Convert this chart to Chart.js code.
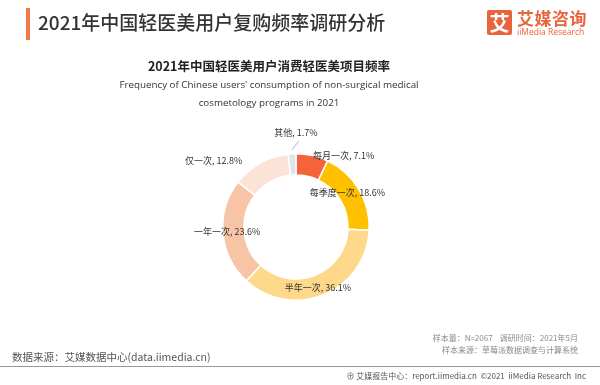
<!DOCTYPE html>
<html>
<head>
<meta charset="utf-8">
<script src="https://cdn.jsdelivr.net/npm/chart.js@4"></script>
<style>
  body { margin: 0; background: #fff; font-family: "Noto Sans CJK SC", "Noto Sans", sans-serif; }
  #wrap { position: relative; width: 600px; height: 385px; overflow: hidden; }
  #chart { position: absolute; left: 0; top: 0; }
  .abs { position: absolute; white-space: nowrap; }
  #bar { left: 26px; top: 8px; width: 4px; height: 32px; background: #f07a4a; }
  #head { left: 38px; top: 8px; font-size: 19px; font-weight: 500; color: #333; line-height: 28px; }
  #logoBox { left: 487px; top: 10px; width: 25px; height: 25px; background: #e8643c; color: #fff; font-size: 20px; font-weight: 700; line-height: 25px; text-align: center; border-radius: 2px; }
  #logoCn { left: 517px; top: 7px; font-size: 17px; font-weight: 700; color: #e8643c; line-height: 22px; letter-spacing: 0.5px; }
  #logoEn { left: 517px; top: 27px; font-size: 8.5px; color: #e8643c; line-height: 10px; font-family: "Open Sans", sans-serif; }
  #ctitle { left: 0; width: 538px; top: 57px; text-align: center; font-size: 12.5px; font-weight: 700; color: #222; line-height: 18px; }
  #csub { left: 0; width: 538px; top: 76px; text-align: center; font-size: 9.8px; color: #333; line-height: 18px; font-family: "Open Sans", sans-serif; white-space: normal; }
  #note1 { right: 22px; top: 332px; font-size: 8px; color: #8a8a8a; line-height: 11.5px; text-align: right; }
  #src { left: 12px; top: 349px; font-size: 10.5px; color: #555; line-height: 15px; }
  #rule { left: 0; top: 366px; width: 600px; height: 1px; background: #999; }
  #foot { right: 14px; top: 369px; font-size: 8px; color: #555; line-height: 13px; }
</style>
</head>
<body>
<div id="wrap">
  <canvas id="chart" width="600" height="385"></canvas>
  <div class="abs" id="bar"></div>
  <div class="abs" id="head">2021年中国轻医美用户复购频率调研分析</div>
  <div class="abs" id="logoBox">艾</div>
  <div class="abs" id="logoCn">艾媒咨询</div>
  <div class="abs" id="logoEn">iiMedia Research</div>
  <div class="abs" id="ctitle">2021年中国轻医美用户消费轻医美项目频率</div>
  <div class="abs" id="csub">Frequency of Chinese users' consumption of non-surgical medical<br>cosmetology programs in 2021</div>
  <div class="abs" id="note1">样本量：N=2067&nbsp;&nbsp;&nbsp;&nbsp;调研时间：2021年5月<br>样本来源：草莓派数据调查与计算系统</div>
  <div class="abs" id="src">数据来源：艾媒数据中心(data.iimedia.cn)</div>
  <div class="abs" id="rule"></div>
  <div class="abs" id="foot">⊕ 艾媒报告中心：report.iimedia.cn&nbsp;&nbsp;©2021&nbsp;&nbsp;iiMedia Research&nbsp;&nbsp;Inc</div>
</div>
<script>
const labels = ['每月一次', '每季度一次', '半年一次', '一年一次', '仅一次', '其他'];
const shares = [7.1, 18.6, 36.1, 23.6, 12.8, 1.7];
const sliceColors = ['#f4633a', '#ffc000', '#fed98c', '#f8c4a6', '#fbe3d7', '#e1e4e8'];

// label placement: [angle from 12 o'clock in degrees, distance from centre in px, align]
const labelSpots = [
    [30, 82, 'left'],
    [56, 62, 'center'],
    [160, 64, 'center'],
    [266, 69, 'center'],
    [309, 106, 'center'],
    [0, 94, 'center']
];

const donutLabels = {
    id: 'donutLabels',
    afterDatasetsDraw(chart) {
        const ctx = chart.ctx;
        const arc0 = chart.getDatasetMeta(0).data[0];
        const cx = arc0.x, cy = arc0.y;
        ctx.save();
        ctx.font = '9px "Noto Sans CJK SC", sans-serif';
        ctx.fillStyle = '#333';
        ctx.textBaseline = 'middle';
        labels.forEach((name, i) => {
            const [deg, dist, align] = labelSpots[i];
            const a = deg * Math.PI / 180;
            let x = cx + dist * Math.sin(a);
            const y = cy - dist * Math.cos(a);
            ctx.textAlign = align;
            if (align === 'left') x -= 24;
            ctx.fillText(name + ', ' + shares[i].toFixed(1) + '%', x, y);
        });
        // leader line for the small slice
        const last = chart.getDatasetMeta(0).data[labels.length - 1];
        const mid = (last.startAngle + last.endAngle) / 2;
        ctx.strokeStyle = '#8fa3b8';
        ctx.lineWidth = 0.8;
        ctx.beginPath();
        ctx.moveTo(cx + (last.outerRadius + 4) * Math.cos(mid), cy + (last.outerRadius + 4) * Math.sin(mid));
        ctx.lineTo(cx + (last.outerRadius + 4) * Math.cos(mid) + 7, cy - 86);
        ctx.stroke();
        ctx.restore();
    }
};

new Chart(document.getElementById('chart'), {
    type: 'doughnut',
    data: {
        labels: labels,
        datasets: [{
            data: shares,
            backgroundColor: sliceColors,
            borderColor: '#fff',
            borderWidth: 1.5
        }]
    },
    options: {
        responsive: false,
        animation: false,
        cutout: '71%',
        layout: { padding: { left: 222, right: 230, top: 153, bottom: 84 } },
        plugins: {
            legend: { display: false },
            tooltip: { enabled: false }
        }
    },
    plugins: [donutLabels]
});
</script>
</body>
</html>
